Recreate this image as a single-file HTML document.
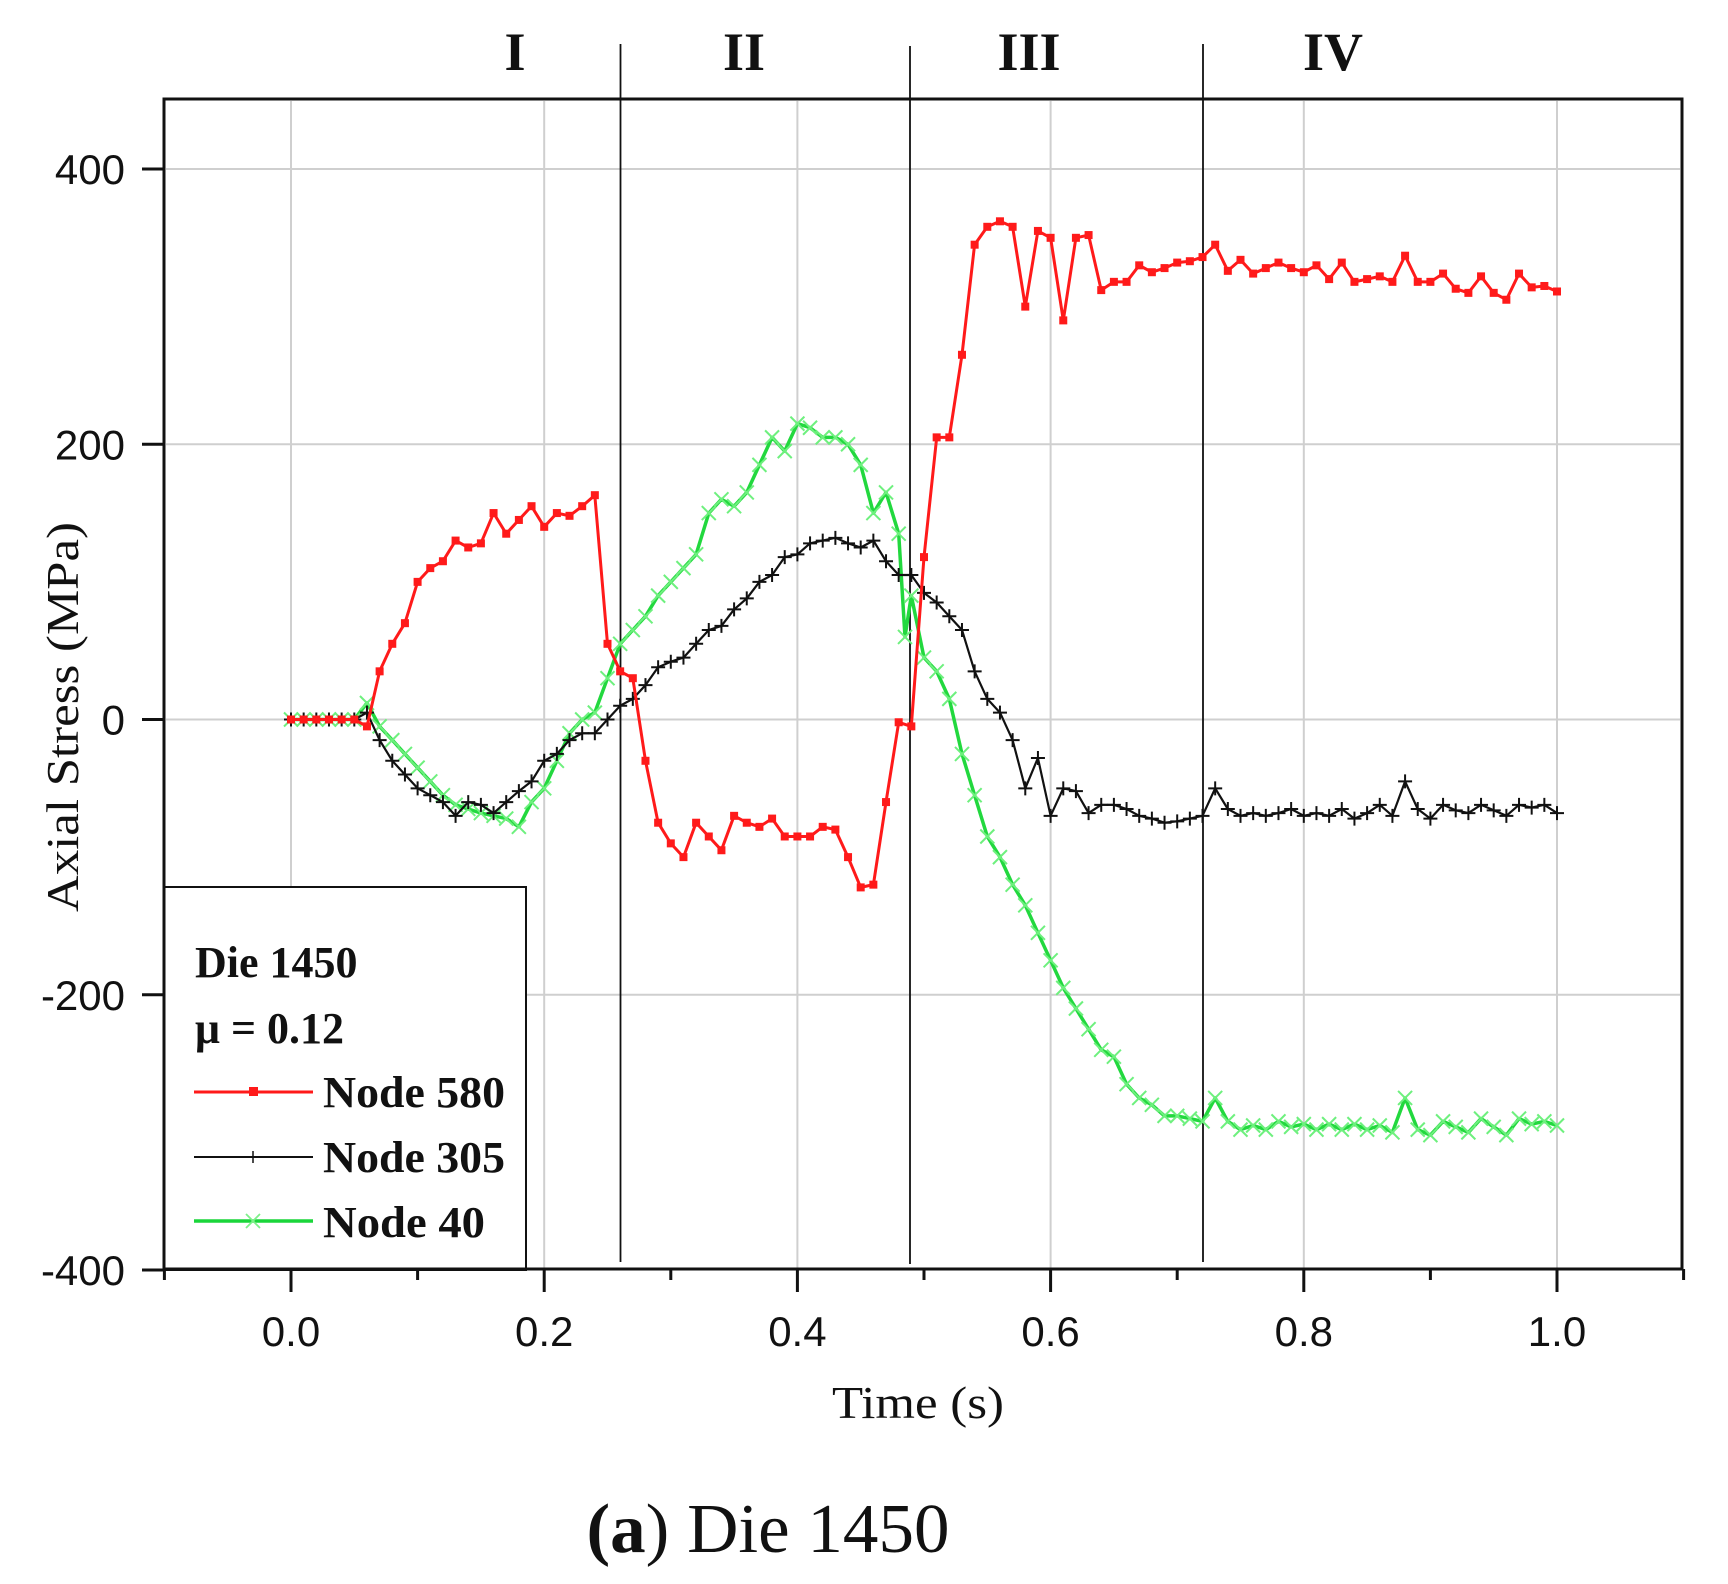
<!DOCTYPE html>
<html><head><meta charset="utf-8"><style>
html,body{margin:0;padding:0;background:#fff;}
svg{display:block;}
</style></head><body>
<svg id="s" width="1728" height="1584" xmlns="http://www.w3.org/2000/svg">
<rect width="1728" height="1584" fill="#fff"/>
<g id="grid" stroke="#cfcfcf" stroke-width="2"></g>
<g id="reg" stroke="#111" stroke-width="1.8">
<line x1="620.5" y1="44" x2="620.5" y2="1262"/>
<line x1="910" y1="46" x2="910" y2="1264"/>
<line x1="1203" y1="44" x2="1203" y2="1262"/>
</g>
<g font-family="Liberation Serif, serif" font-weight="bold" font-size="54" text-anchor="middle" fill="#111">
<text x="515" y="70">I</text><text x="744" y="70">II</text><text x="1029" y="70">III</text><text x="1333" y="70">IV</text>
</g>
<g id="series"></g>
<rect x="164" y="887" width="362" height="383" fill="#fff" stroke="#111" stroke-width="2"/>
<rect x="164" y="99" width="1518" height="1170" fill="none" stroke="#111" stroke-width="3"/>
<g id="ticks" stroke="#111" stroke-width="3"></g>
<g font-family="Liberation Sans, sans-serif" font-size="42" fill="#111" id="lbl"></g>
<text font-family="Liberation Serif, serif" font-size="46" fill="#111" x="918" y="1418" text-anchor="middle" textLength="172" lengthAdjust="spacingAndGlyphs">Time (s)</text>
<text font-family="Liberation Serif, serif" font-size="46" fill="#111" transform="translate(78,717) rotate(-90)" text-anchor="middle" textLength="390" lengthAdjust="spacingAndGlyphs">Axial Stress  (MPa)</text>
<g font-family="Liberation Serif, serif" font-weight="bold" font-size="44" fill="#111">
<text x="195" y="977">Die 1450</text>
<text x="195" y="1043">μ = 0.12</text>
<text x="323" y="1107" textLength="182" lengthAdjust="spacingAndGlyphs">Node 580</text>
<text x="323" y="1172" textLength="182" lengthAdjust="spacingAndGlyphs">Node 305</text>
<text x="323" y="1237" textLength="162" lengthAdjust="spacingAndGlyphs">Node 40</text>
</g>
<line x1="194" y1="1092" x2="313" y2="1092" stroke="#ff1a1a" stroke-width="3"/>
<rect x="249" y="1087" width="9" height="9" fill="#ff1a1a"/>
<line x1="194" y1="1157" x2="313" y2="1157" stroke="#111" stroke-width="2"/>
<line x1="253" y1="1151" x2="253" y2="1163" stroke="#111" stroke-width="1.5"/>
<line x1="194" y1="1221" x2="313" y2="1221" stroke="#1ad63a" stroke-width="3.5"/>
<path d="M246 1214 L260 1228 M260 1214 L246 1228" stroke="#7ef08a" stroke-width="1.8"/>
<text font-family="Liberation Serif, serif" font-size="70" fill="#111" x="768" y="1552" text-anchor="middle" textLength="363" lengthAdjust="spacingAndGlyphs"><tspan font-weight="bold">(a</tspan>) Die 1450</text>
<script>
var NS="http://www.w3.org/2000/svg";
function X(t){return 291+1266*t;} function Y(v){return 719.5-v*1.37625;}
function el(p,n,a){var e=document.createElementNS(NS,n);for(var k in a)e.setAttribute(k,a[k]);document.getElementById(p).appendChild(e);return e;}
[0,0.2,0.4,0.6,0.8,1.0].forEach(function(t){el("grid","line",{x1:X(t),y1:101,x2:X(t),y2:1268});});
[400,200,0,-200].forEach(function(v){el("grid","line",{x1:166,y1:Y(v),x2:1680,y2:Y(v)});});
for(var i=-1;i<=11;i++){var t=i/10;var maj=(i%2==0);el("ticks","line",{x1:X(t),y1:1269,x2:X(t),y2:maj?1292:1280});}
[400,200,0,-200,-400].forEach(function(v){el("ticks","line",{x1:142,y1:Y(v),x2:164,y2:Y(v)});
var t=el("lbl","text",{x:125,y:Y(v)+15,"text-anchor":"end"});t.textContent=v;});
["0.0","0.2","0.4","0.6","0.8","1.0"].forEach(function(s,i){var t=el("lbl","text",{x:X(i*0.2),y:1346,"text-anchor":"middle"});t.textContent=s;});
var red=[[0,0],[0.01,0],[0.02,0],[0.03,0],[0.04,0],[0.05,0],[0.06,-5],[0.07,35],[0.08,55],[0.09,70],[0.10,100],[0.11,110],[0.12,115],[0.13,130],[0.14,125],[0.15,128],[0.16,150],[0.17,135],[0.18,145],[0.19,155],[0.20,140],[0.21,150],[0.22,148],[0.23,155],[0.24,163],[0.25,55],[0.26,35],[0.27,30],[0.28,-30],[0.29,-75],[0.30,-90],[0.31,-100],[0.32,-75],[0.33,-85],[0.34,-95],[0.35,-70],[0.36,-75],[0.37,-78],[0.38,-72],[0.39,-85],[0.40,-85],[0.41,-85],[0.42,-78],[0.43,-80],[0.44,-100],[0.45,-122],[0.46,-120],[0.47,-60],[0.48,-2],[0.49,-5],[0.50,118],[0.51,205],[0.52,205],[0.53,265],[0.54,345],[0.55,358],[0.56,362],[0.57,358],[0.58,300],[0.59,355],[0.60,350],[0.61,290],[0.62,350],[0.63,352],[0.64,312],[0.65,318],[0.66,318],[0.67,330],[0.68,325],[0.69,328],[0.70,332],[0.71,333],[0.72,336],[0.73,345],[0.74,326],[0.75,334],[0.76,324],[0.77,328],[0.78,332],[0.79,328],[0.80,325],[0.81,330],[0.82,320],[0.83,332],[0.84,318],[0.85,320],[0.86,322],[0.87,318],[0.88,337],[0.89,318],[0.90,318],[0.91,324],[0.92,313],[0.93,310],[0.94,322],[0.95,310],[0.96,305],[0.97,324],[0.98,314],[0.99,315],[1.0,311]];
var blk=[[0,0],[0.01,0],[0.02,0],[0.03,0],[0.04,0],[0.05,0],[0.06,5],[0.07,-15],[0.08,-30],[0.09,-40],[0.10,-50],[0.11,-55],[0.12,-60],[0.13,-70],[0.14,-60],[0.15,-62],[0.16,-68],[0.17,-60],[0.18,-52],[0.19,-45],[0.20,-30],[0.21,-25],[0.22,-15],[0.23,-10],[0.24,-10],[0.25,0],[0.26,10],[0.27,15],[0.28,25],[0.29,38],[0.30,42],[0.31,45],[0.32,55],[0.33,65],[0.34,68],[0.35,80],[0.36,88],[0.37,100],[0.38,105],[0.39,118],[0.40,120],[0.41,128],[0.42,130],[0.43,132],[0.44,128],[0.45,125],[0.46,130],[0.47,115],[0.48,105],[0.49,105],[0.50,92],[0.51,85],[0.52,75],[0.53,65],[0.54,35],[0.55,15],[0.56,5],[0.57,-15],[0.58,-50],[0.59,-28],[0.60,-70],[0.61,-50],[0.62,-52],[0.63,-68],[0.64,-62],[0.65,-62],[0.66,-65],[0.67,-70],[0.68,-72],[0.69,-75],[0.70,-74],[0.71,-72],[0.72,-70],[0.73,-50],[0.74,-65],[0.75,-70],[0.76,-68],[0.77,-70],[0.78,-68],[0.79,-65],[0.80,-70],[0.81,-68],[0.82,-70],[0.83,-65],[0.84,-72],[0.85,-68],[0.86,-62],[0.87,-70],[0.88,-45],[0.89,-65],[0.90,-72],[0.91,-62],[0.92,-66],[0.93,-68],[0.94,-62],[0.95,-66],[0.96,-70],[0.97,-62],[0.98,-64],[0.99,-62],[1.0,-68]];
var grn=[[0,0],[0.01,0],[0.02,0],[0.03,0],[0.04,0],[0.05,0],[0.06,12],[0.07,-5],[0.08,-15],[0.09,-25],[0.10,-35],[0.11,-45],[0.12,-55],[0.13,-62],[0.14,-65],[0.15,-68],[0.16,-70],[0.17,-72],[0.18,-78],[0.19,-60],[0.20,-50],[0.21,-30],[0.22,-10],[0.23,0],[0.24,5],[0.25,30],[0.26,55],[0.27,65],[0.28,75],[0.29,90],[0.30,100],[0.31,110],[0.32,120],[0.33,150],[0.34,160],[0.35,155],[0.36,165],[0.37,185],[0.38,205],[0.39,195],[0.40,215],[0.41,212],[0.42,205],[0.43,205],[0.44,200],[0.45,185],[0.46,150],[0.47,165],[0.48,135],[0.485,60],[0.49,90],[0.50,45],[0.51,35],[0.52,15],[0.53,-25],[0.54,-55],[0.55,-85],[0.56,-100],[0.57,-120],[0.58,-135],[0.59,-155],[0.60,-175],[0.61,-195],[0.62,-210],[0.63,-225],[0.64,-240],[0.65,-245],[0.66,-265],[0.67,-275],[0.68,-280],[0.69,-288],[0.70,-288],[0.71,-290],[0.72,-292],[0.73,-275],[0.74,-292],[0.75,-298],[0.76,-295],[0.77,-298],[0.78,-292],[0.79,-296],[0.80,-294],[0.81,-298],[0.82,-294],[0.83,-298],[0.84,-294],[0.85,-298],[0.86,-295],[0.87,-300],[0.88,-275],[0.89,-298],[0.90,-302],[0.91,-292],[0.92,-296],[0.93,-300],[0.94,-290],[0.95,-296],[0.96,-302],[0.97,-290],[0.98,-294],[0.99,-292],[1.0,-295]];
function draw(d,col,w,m){var pts=d.map(function(p){return X(p[0]).toFixed(1)+","+Y(p[1]).toFixed(1);}).join(" ");
el("series","polyline",{points:pts,fill:"none",stroke:col,"stroke-width":w,"stroke-linejoin":"round"});
d.forEach(function(p){var x=X(p[0]),y=Y(p[1]);
if(m=="sq")el("series","rect",{x:x-4,y:y-4,width:8,height:8,fill:col});
else if(m=="plus")el("series","path",{d:"M"+(x-7)+" "+y+"h14M"+x+" "+(y-7)+"v14",stroke:"#111","stroke-width":2,fill:"none"});
else el("series","path",{d:"M"+(x-7)+" "+(y-7)+"l14 14M"+(x+7)+" "+(y-7)+"l-14 14",stroke:"#6ef07e","stroke-width":2,fill:"none"});});}
draw(grn,"#22d83e",3.5,"x");
draw(blk,"#111",2.2,"plus");
draw(red,"#ff1a1a",3,"sq");
</script>
</svg>
</body></html>
